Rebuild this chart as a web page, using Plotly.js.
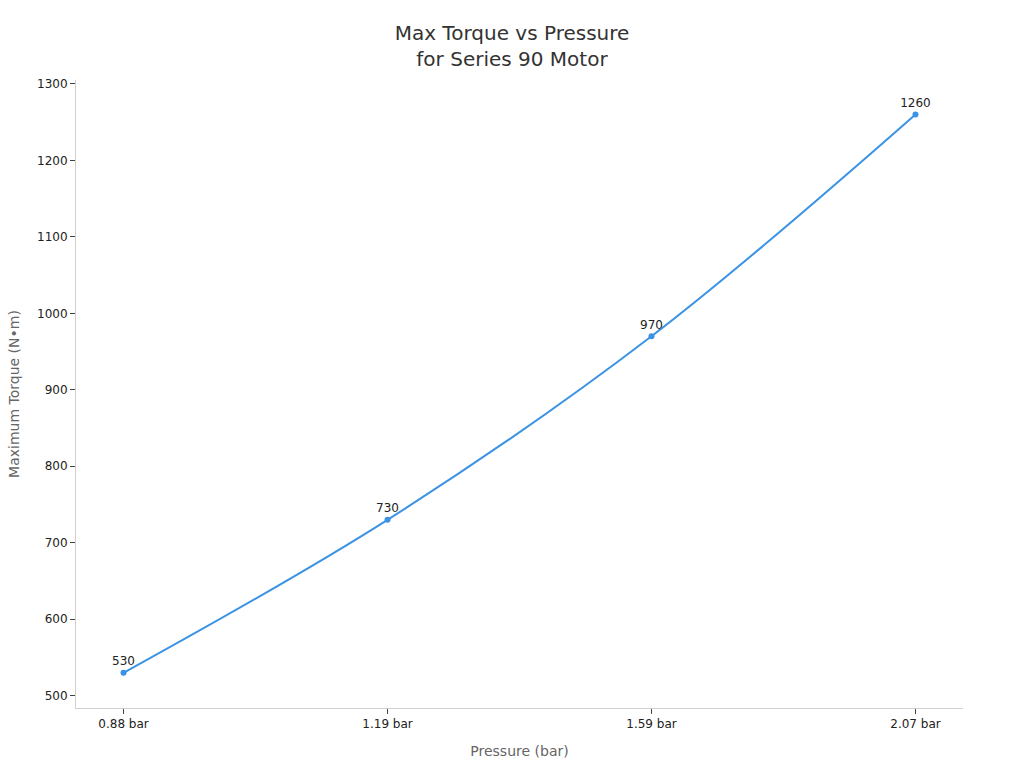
<!DOCTYPE html>
<html>
<head>
<meta charset="utf-8">
<script src="https://cdn.plot.ly/plotly-3.0.1.min.js"></script>
<style>html,body{margin:0;padding:0;background:#fff;}#chart{width:1024px;height:768px;}</style>
</head>
<body>
<div id="chart"></div>
<script>
const pressures = ["0.88 bar", "1.19 bar", "1.59 bar", "2.07 bar"];
const torques = [530, 730, 970, 1260];
const torqueLabels = ["530", "730", "970", "1260"];

const trace = {
  x: pressures,
  y: torques,
  type: "scatter",
  mode: "lines+markers+text",
  text: torqueLabels,
  textposition: "top center",
  textfont: {family: "DejaVu Sans", size: 12, color: "#222"},
  line: {color: "#3a93e4", width: 2, shape: "spline", smoothing: 1},
  marker: {color: "#3a93e4", size: 6},
  hoverinfo: "x+y"
};

const layout = {
  width: 1024,
  height: 768,
  margin: {l: 76, r: 61, t: 80, b: 60},
  paper_bgcolor: "#fff",
  plot_bgcolor: "#fff",
  font: {family: "DejaVu Sans", color: "#222"},
  showlegend: false,
  title: {
    text: "Max Torque vs Pressure<br>for Series 90 Motor",
    x: 0.5, xanchor: "center",
    y: 0.948, yanchor: "middle",
    font: {family: "DejaVu Sans", size: 20, color: "#333"}
  },
  xaxis: {
    type: "category",
    range: [-0.18, 3.18],
    showgrid: false,
    zeroline: false,
    showline: true,
    linecolor: "#d0d0d0",
    linewidth: 1,
    ticks: "outside",
    ticklen: 5,
    tickcolor: "#444",
    tickfont: {family: "DejaVu Sans", size: 12, color: "#222"},
    title: {text: "Pressure (bar)", standoff: 15, font: {family: "DejaVu Sans", size: 14, color: "#666"}}
  },
  yaxis: {
    range: [484, 1305],
    dtick: 100,
    tick0: 500,
    showgrid: false,
    zeroline: false,
    showline: true,
    linecolor: "#d0d0d0",
    linewidth: 1,
    ticks: "outside",
    ticklen: 5,
    tickcolor: "#444",
    tickfont: {family: "DejaVu Sans", size: 12, color: "#222"},
    title: {text: "Maximum Torque (N•m)", standoff: 14, font: {family: "DejaVu Sans", size: 14, color: "#666"}}
  }
};

Plotly.newPlot("chart", [trace], layout, {displayModeBar: false, responsive: false});
</script>
</body>
</html>
